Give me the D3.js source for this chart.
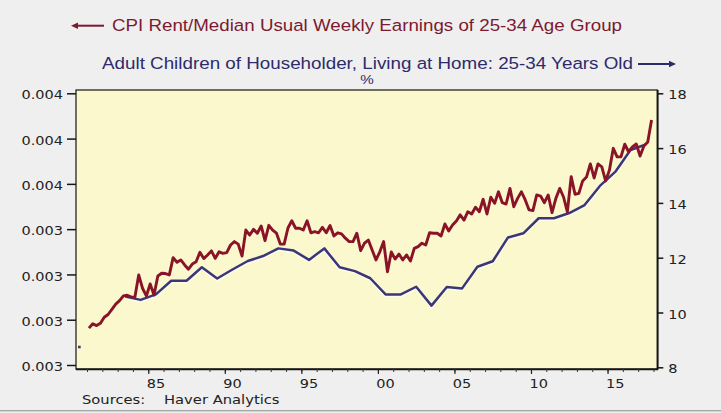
<!DOCTYPE html>
<html><head><meta charset="utf-8">
<script src="https://cdn.jsdelivr.net/npm/d3@7"></script>
<style>
html,body{margin:0;padding:0;background:#efefef;}
svg{display:block;}
</style></head><body>
<svg id="chart" width="721" height="413"></svg>
<script>
// ---- Data ----
// CPI Rent / Median usual weekly earnings, 25-34 (quarterly, from 1981Q1), left axis
const rentStartYear = 1981;
const rentRatio = [
0.002863,0.002882,0.002874,0.002884,0.002911,0.002923,0.002946,0.002969,0.002984,0.003005,
0.003008,0.003001,0.002999,0.003098,0.003039,0.003005,0.003058,0.003009,0.003093,0.003105,
0.003104,0.003098,0.003174,0.003154,0.003164,0.003142,0.003123,0.003146,0.003156,0.003198,
0.003170,0.003186,0.003204,0.003171,0.003200,0.003193,0.003196,0.003230,0.003245,0.003234,
0.003181,0.003296,0.003274,0.003299,0.003282,0.003314,0.003249,0.003317,0.003296,0.003282,
0.003234,0.003234,0.003305,0.003337,0.003304,0.003304,0.003296,0.003337,0.003284,0.003289,
0.003284,0.003308,0.003284,0.003316,0.003270,0.003284,0.003279,0.003260,0.003245,0.003245,
0.003282,0.003205,0.003238,0.003252,0.003208,0.003164,0.003200,0.003245,0.003112,0.003199,
0.003168,0.003190,0.003164,0.003186,0.003159,0.003215,0.003223,0.003238,0.003230,0.003284,
0.003282,0.003282,0.003270,0.003323,0.003292,0.003318,0.003336,0.003363,0.003340,0.003377,
0.003367,0.003397,0.003377,0.003432,0.003367,0.003441,0.003414,0.003465,0.003417,0.003411,
0.003480,0.003399,0.003436,0.003465,0.003429,0.003385,0.003382,0.003451,0.003446,0.003417,
0.003451,0.003373,0.003436,0.003480,0.003442,0.003376,0.003532,0.003454,0.003458,0.003513,
0.003530,0.003588,0.003526,0.003588,0.003575,0.003513,0.003561,0.003657,0.003619,0.003619,
0.003675,0.003642,0.003663,0.003676,0.003623,0.003667,0.003685,0.003782
];
// Adult children of householder living at home, 25-34 (%; annual), right axis
const livingYears = [1980,1981,1982,1983,1984,1985,1986,1987,1988,1989,1990,1991,1992,1993,1994,1995,1996,1997,1998,1999,
  2000,2001,2002,2003,2004,2005,2006,2007,2008,2009,2010,2011,2012,2013,2014,2015,2016,2017];
const livingAtHome = [8.74,null,null,10.58,10.46,10.66,11.16,11.16,11.65,11.24,11.57,11.88,12.06,12.34,12.26,11.92,12.34,11.65,11.51,11.25,
  10.66,10.66,10.94,10.25,10.93,10.88,11.67,11.87,12.74,12.89,13.44,13.44,13.63,13.92,14.62,15.13,15.93,16.13];

const leftTicks = [0.0027,0.0029,0.0031,0.0033,0.0035,0.0037,0.0039];
const leftTickLabels = ["0.003","0.003","0.003","0.003","0.004","0.004","0.004"];
const rightTicks = [8,10,12,14,16,18];
const rightTickLabels = ["8","10","12","14","16","18"];
const xMajorYears = [1985,1990,1995,2000,2005,2010,2015];
const xTickLabels = ["85","90","95","00","05","10","15"];
const xMinorYears = d3.range(1981, 2019);

const title1 = "CPI Rent/Median Usual Weekly Earnings of 25-34 Age Group";
const title2 = "Adult Children of Householder, Living at Home: 25-34 Years Old";
const unitLabel = "%";
const sourceLabel = "Sources:";
const sourceName = "Haver Analytics";

// ---- Layout ----
const RED = "#891428", BLUE = "#3a3678";
const TRED = "#7c1a2f", TBLUE = "#2e2b6b";
const P = {l:76, r:657.3, t:90, b:369};
const AX_FONT = "'DejaVu Sans', Verdana, sans-serif";
const TITLE_FONT = "'Liberation Sans', Arial, sans-serif";
const STRETCH = 1.17;

const svg = d3.select("#chart");
svg.append("rect").attr("width",721).attr("height",413).attr("fill","#efefef");

const x = d3.scaleLinear().domain([1980.28, 2018.25]).range([P.l, P.r]);
const yL = d3.scaleLinear().domain([0.0027, 0.0039]).range([365, 93.3]);
const yR = d3.scaleLinear().domain([8, 18]).range([367.3, 93.3]);

function stretch(sel, k){
  sel.each(function(){
    const w = this.getComputedTextLength();
    d3.select(this).attr("textLength", w*k).attr("lengthAdjust","spacingAndGlyphs");
  });
}
function fitTo(sel, w){ sel.attr("textLength", w).attr("lengthAdjust","spacingAndGlyphs"); }

// plot background
svg.append("rect").attr("x",P.l).attr("y",P.t).attr("width",P.r-P.l).attr("height",P.b-P.t)
  .attr("fill","#fbf8cd");

// series: blue
const blueData = livingYears.map((yr,i)=>({t:yr+0.5, v:livingAtHome[i]}));
const blueLine = d3.line().defined(d=>d.v!=null).x(d=>x(d.t)).y(d=>yR(d.v));
svg.append("path").datum(blueData).attr("d",blueLine).attr("fill","none")
  .attr("stroke","#ffffff").attr("stroke-opacity",0.55).attr("stroke-width",4).attr("transform","translate(0,0.8)");
svg.append("path").datum(blueData).attr("d",blueLine).attr("fill","none")
  .attr("stroke",BLUE).attr("stroke-width",2.5).attr("stroke-linejoin","round");
// isolated points (neighbours missing)
svg.selectAll("rect.iso").data(blueData.filter((d,i)=>d.v!=null &&
    (i===0||blueData[i-1].v==null) && (i===blueData.length-1||blueData[i+1].v==null)))
  .enter().append("rect").attr("class","iso")
  .attr("x",d=>x(d.t)-1.3).attr("y",d=>yR(d.v)-1.3).attr("width",2.6).attr("height",2.6).attr("fill",BLUE);

// series: red
const redData = rentRatio.map((v,k)=>({t:rentStartYear + k*0.25 + 0.125, v}));
const redLine = d3.line().x(d=>x(d.t)).y(d=>yL(d.v));
svg.append("path").datum(redData).attr("d",redLine).attr("fill","none")
  .attr("stroke",RED).attr("stroke-width",2.9).attr("stroke-linejoin","round");

// frame
svg.append("rect").attr("x",P.l).attr("y",P.t).attr("width",P.r-P.l).attr("height",P.b-P.t)
  .attr("fill","none").attr("stroke","#151515").attr("stroke-width",1.2);
svg.append("line").attr("x1",P.l).attr("x2",P.r+1).attr("y1",P.b+0.4).attr("y2",P.b+0.4)
  .attr("stroke","#151515").attr("stroke-width",1.8);
svg.append("line").attr("x1",P.r+0.4).attr("x2",P.r+0.4).attr("y1",P.t).attr("y2",P.b)
  .attr("stroke","#151515").attr("stroke-width",1.8);

// left axis
const gL = svg.append("g").attr("transform",`translate(${P.l},0)`)
  .call(d3.axisLeft(yL).tickValues(leftTicks).tickFormat((d,i)=>leftTickLabels[i]).tickSize(9).tickPadding(4));
gL.select(".domain").remove();
gL.selectAll("line").attr("stroke","#151515").attr("stroke-width",1.5);
gL.selectAll("text").attr("font-family",AX_FONT).attr("font-size",12.4).attr("fill","#222")
  .attr("dy","0.45em").call(stretch, STRETCH);

// right axis
const gR = svg.append("g").attr("transform",`translate(${P.r},0)`)
  .call(d3.axisRight(yR).tickValues(rightTicks).tickFormat((d,i)=>rightTickLabels[i]).tickSize(6).tickPadding(5));
gR.select(".domain").remove();
gR.selectAll("line").attr("stroke","#151515").attr("stroke-width",1.5);
gR.selectAll("text").attr("font-family",AX_FONT).attr("font-size",12.4).attr("fill","#222")
  .attr("dy","0.45em").call(stretch, STRETCH);

// bottom axis: minor + major ticks
const gB1 = svg.append("g").attr("transform",`translate(0,${P.b})`)
  .call(d3.axisBottom(x).tickValues(xMinorYears).tickSize(3).tickFormat(""));
gB1.select(".domain").remove();
gB1.selectAll("line").attr("stroke","#333").attr("stroke-width",1);
const gB2 = svg.append("g").attr("transform",`translate(0,${P.b})`)
  .call(d3.axisBottom(x).tickValues(xMajorYears).tickSize(5).tickFormat(""));
gB2.select(".domain").remove();
gB2.selectAll("line").attr("stroke","#222").attr("stroke-width",1.2);
svg.append("g").selectAll("text").data(xMajorYears).enter().append("text")
  .attr("x",d=>x(d+0.5)).attr("y",387.5).attr("text-anchor","middle")
  .attr("font-family",AX_FONT).attr("font-size",12.4).attr("fill","#222")
  .text((d,i)=>xTickLabels[i]).call(stretch, STRETCH);

// sources
svg.append("text").attr("x",82).attr("y",403.5).attr("font-family",AX_FONT).attr("font-size",12.6)
  .attr("fill","#222").text(sourceLabel).call(stretch, STRETCH);
svg.append("text").attr("x",164).attr("y",403.5).attr("font-family",AX_FONT).attr("font-size",12.6)
  .attr("fill","#222").text(sourceName).call(stretch, STRETCH);

// titles
svg.append("text").attr("x",112).attr("y",31).attr("font-family",TITLE_FONT)
  .attr("font-size",16.8).attr("fill",TRED).text(title1).call(fitTo, 510);
svg.append("text").attr("x",102).attr("y",69).attr("font-family",TITLE_FONT)
  .attr("font-size",16.8).attr("fill",TBLUE).text(title2).call(fitTo, 531);
svg.append("text").attr("x",367).attr("y",83.5).attr("text-anchor","middle")
  .attr("font-family",TITLE_FONT).attr("font-size",13).attr("fill",TBLUE)
  .text(unitLabel).call(stretch, STRETCH);

// legend arrows
function arrow(x1, x2, y, color){
  const dir = Math.sign(x2 - x1);
  svg.append("line").attr("x1",x1).attr("x2",x2-dir*3).attr("y1",y).attr("y2",y)
    .attr("stroke",color).attr("stroke-width",2);
  svg.append("path").attr("d",`M${x2},${y} L${x2-dir*7},${y-3.2} L${x2-dir*7},${y+3.2} Z`).attr("fill",color);
}
arrow(104, 71, 25.7, TRED);
arrow(638, 676, 64, TBLUE);

// bottom separator
svg.append("line").attr("x1",0).attr("x2",721).attr("y1",410.5).attr("y2",410.5).attr("stroke","#a9a9a9").attr("stroke-width",1);
svg.append("line").attr("x1",0).attr("x2",721).attr("y1",411.5).attr("y2",411.5).attr("stroke","#d2d2d2").attr("stroke-width",1);
</script>
</body></html>
